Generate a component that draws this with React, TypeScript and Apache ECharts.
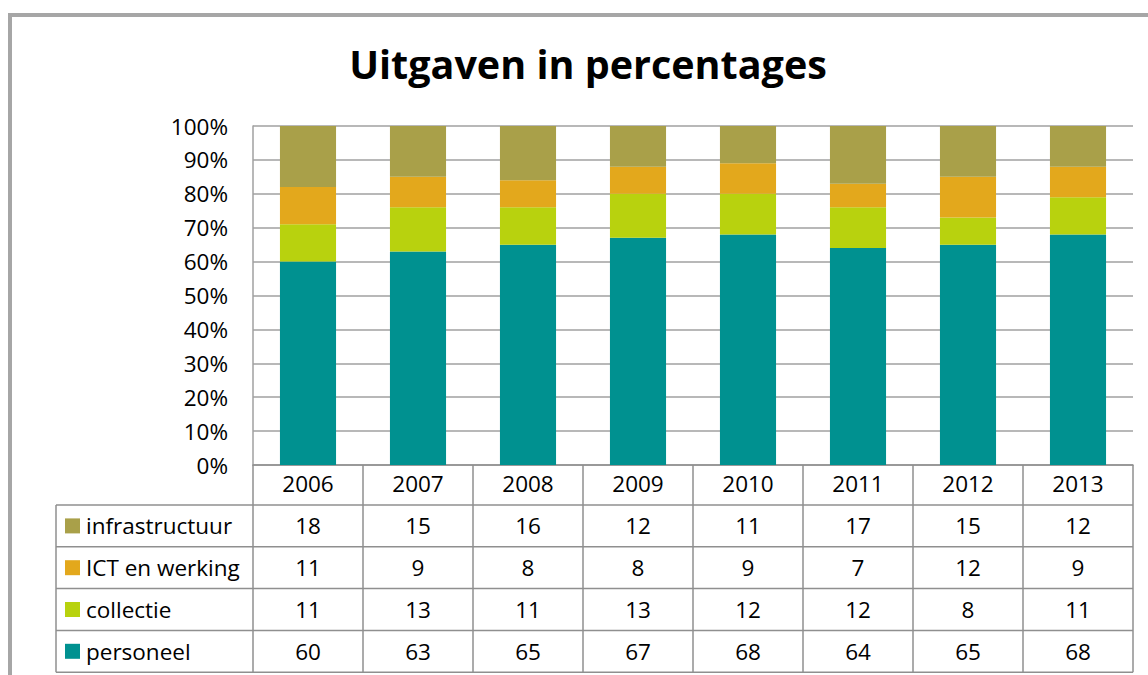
import React, { useEffect, useRef } from "react";
import * as echarts from "echarts";

const categories = ["2006", "2007", "2008", "2009", "2010", "2011", "2012", "2013"];
const seriesNames = ["infrastructuur", "ICT en werking", "collectie", "personeel"];
const personeel = [60, 63, 65, 67, 68, 64, 65, 68];
const collectie = [11, 13, 11, 13, 12, 12, 8, 11];
const ictEnWerking = [11, 9, 8, 8, 9, 7, 12, 9];
const infrastructuur = [18, 15, 16, 12, 11, 17, 15, 12];
const colors = ["#A9A049", "#E3A81C", "#B8D20E", "#009190"];
const yTicks = [0, 10, 20, 30, 40, 50, 60, 70, 80, 90, 100];

const FONT = "Open Sans";
const FS = 22.5;
const GL = 253, GT = 126, GW = 880, GH = 339;
const TABLE_LEFT = 56;
const HEADER_BOTTOM = 505;
const ROW_H = 41.8;

export default function App() {
  const ref = useRef<HTMLDivElement>(null);
  useEffect(() => {
    document.body.style.margin = "0";
    const chart = echarts.init(ref.current!, null, { renderer: "svg" });
    const rowsData = [infrastructuur, ictEnWerking, collectie, personeel];
    const colW = GW / categories.length;
    const lineColor = "#8f8f8f";
    const graphics: any[] = [];
    graphics.push({
      type: "rect",
      shape: { x: 10, y: 15, width: 1200, height: 700 },
      style: { fill: "none", stroke: "#a6a6a6", lineWidth: 4 },
      silent: true,
    });
    for (let r = 0; r <= rowsData.length; r++) {
      const y = HEADER_BOTTOM + r * ROW_H;
      graphics.push({
        type: "line",
        shape: { x1: TABLE_LEFT, y1: y, x2: GL + GW, y2: y },
        style: { stroke: lineColor, lineWidth: 1.5 },
      });
    }
    graphics.push({
      type: "line",
      shape: { x1: TABLE_LEFT, y1: HEADER_BOTTOM, x2: TABLE_LEFT, y2: HEADER_BOTTOM + rowsData.length * ROW_H },
      style: { stroke: lineColor, lineWidth: 1.5 },
    });
    rowsData.forEach((vals, r) => {
      const cy = HEADER_BOTTOM + (r + 0.5) * ROW_H;
      graphics.push({
        type: "rect",
        shape: { x: 65, y: cy - 7.5, width: 15, height: 15 },
        style: { fill: colors[r] },
      });
      graphics.push({
        type: "text",
        x: 86,
        y: cy,
        style: { text: seriesNames[r], fontFamily: FONT, fontSize: FS, fill: "#000", verticalAlign: "middle", align: "left" },
      });
      vals.forEach((v, i) => {
        graphics.push({
          type: "text",
          x: GL + colW * (i + 0.5),
          y: cy,
          style: { text: String(v), fontFamily: FONT, fontSize: FS, fill: "#000", verticalAlign: "middle", align: "center" },
        });
      });
    });

    const seriesData = [personeel, collectie, ictEnWerking, infrastructuur];
    const seriesOrder = ["personeel", "collectie", "ICT en werking", "infrastructuur"];
    const seriesColors = [colors[3], colors[2], colors[1], colors[0]];

    chart.setOption({
      animation: false,
      title: {
        text: "Uitgaven in percentages",
        left: 583,
        top: 39,
        textAlign: "center",
        textStyle: { fontFamily: FONT, fontWeight: "bold", fontSize: 39.5, color: "#000" },
      },
      grid: { left: GL, top: GT, width: GW, height: GH, containLabel: false },
      xAxis: {
        type: "category",
        data: categories,
        axisLine: { show: true, lineStyle: { color: lineColor, width: 1.5 } },
        axisTick: { show: true, length: HEADER_BOTTOM + 4 * ROW_H - (GT + GH), lineStyle: { color: lineColor, width: 1.5 } },
        axisLabel: { fontFamily: FONT, fontSize: FS, color: "#000", margin: 7 },
      },
      yAxis: {
        type: "value",
        min: 0,
        max: 100,
        interval: 10,
        axisLine: { show: true, lineStyle: { color: "#a0a0a0", width: 1.5 } },
        axisTick: { show: false },
        splitLine: { lineStyle: { color: "#a0a0a0", width: 1.5 } },
        axisLabel: {
          fontFamily: FONT,
          fontSize: FS,
          color: "#000",
          margin: 25,
          formatter: (v: number) => (yTicks.includes(v) ? v + "%" : ""),
        },
      },
      series: seriesData.map((d, k) => ({
        name: seriesOrder[k],
        type: "bar",
        stack: "total",
        data: d,
        barWidth: "51%",
        itemStyle: { color: seriesColors[k] },
      })),
      graphic: graphics,
    });
    return () => chart.dispose();
  }, []);
  return <div ref={ref} style={{ width: 1148, height: 675 }} />;
}
